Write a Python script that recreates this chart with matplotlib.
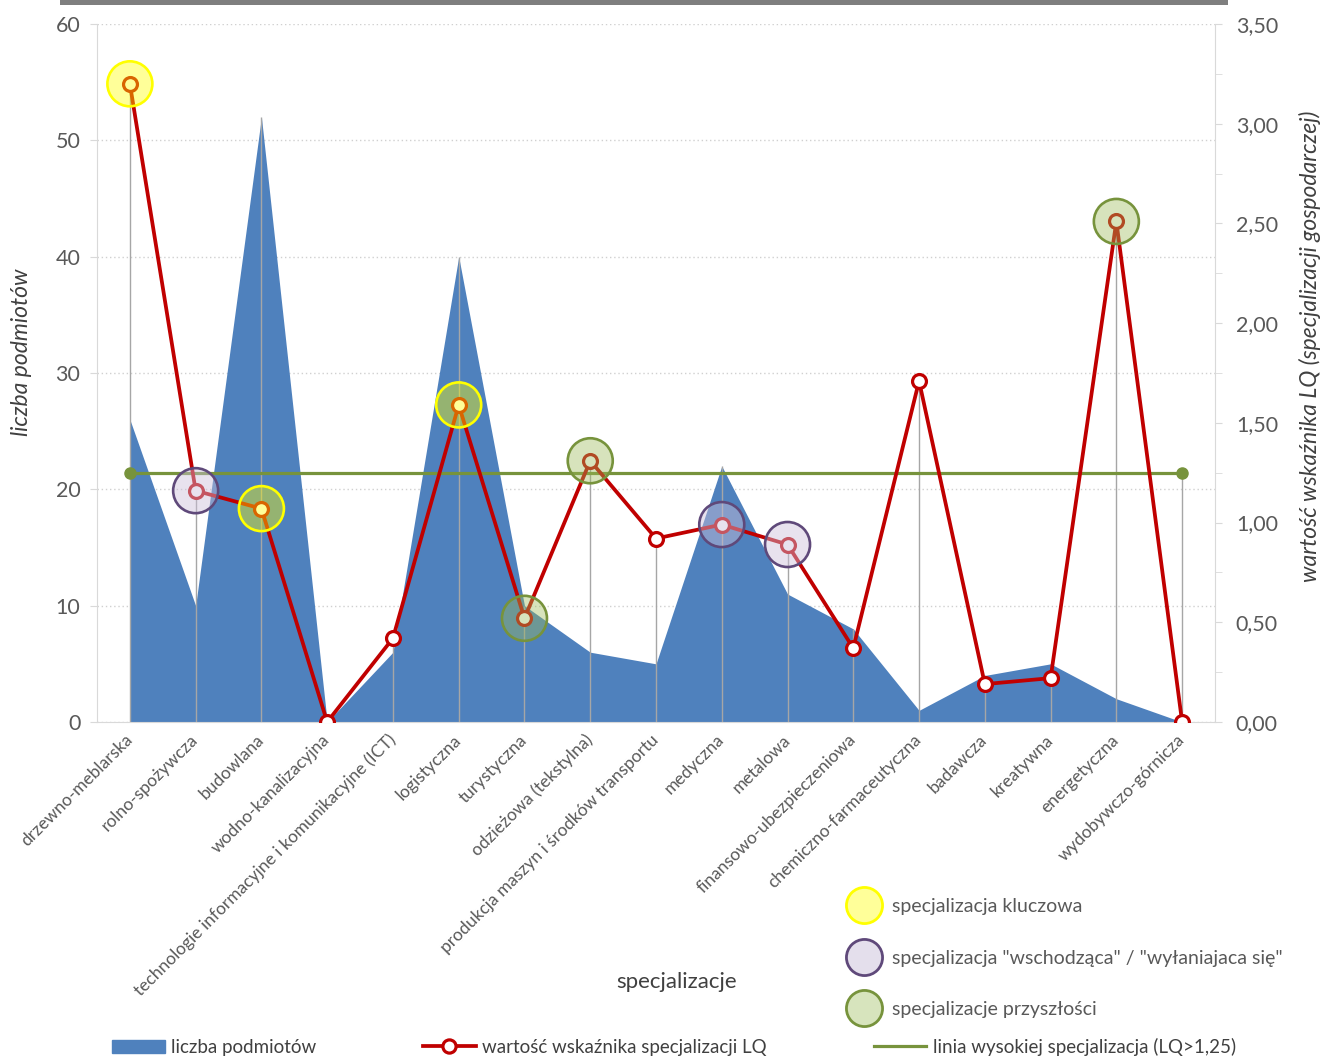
import matplotlib
matplotlib.use('Agg')
import matplotlib.pyplot as plt
from matplotlib.lines import Line2D
from matplotlib.patches import Patch, Rectangle
from matplotlib.ticker import MultipleLocator, FuncFormatter

plt.rcParams['font.family'] = ['Lato', 'DejaVu Sans']

# dane
kategorie = ['drzewno-meblarska', 'rolno-spożywcza', 'budowlana', 'wodno-kanalizacyjna',
             'technologie informacyjne i komunikacyjne (ICT)', 'logistyczna', 'turystyczna',
             'odzieżowa (tekstylna)', 'produkcja maszyn i środków transportu', 'medyczna',
             'metalowa', 'finansowo-ubezpieczeniowa', 'chemiczno-farmaceutyczna', 'badawcza',
             'kreatywna', 'energetyczna', 'wydobywczo-górnicza']
liczba_podmiotow = [26, 10, 52, 0, 6, 40, 10, 6, 5, 22, 11, 8, 1, 4, 5, 2, 0]
lq = [3.20, 1.16, 1.07, 0.00, 0.42, 1.59, 0.52, 1.31, 0.92, 0.99, 0.89, 0.37, 1.71, 0.19, 0.22, 2.51, 0.00]
lq_prog = 1.25

kluczowe = ['drzewno-meblarska', 'budowlana', 'logistyczna']
wschodzace = ['rolno-spożywcza', 'medyczna', 'metalowa']
przyszlosci = ['turystyczna', 'odzieżowa (tekstylna)', 'energetyczna']

x = list(range(len(kategorie)))

fig = plt.figure(figsize=(13.22, 10.59), dpi=100)
ax1 = fig.add_axes([97 / 1322, 337 / 1059, 1118 / 1322, 698 / 1059])
ax2 = ax1.twinx()

# obszar - liczba podmiotow
ax1.fill_between(x, liczba_podmiotow, color='#4F81BD', lw=0)
ax1.set_xlim(-0.5, len(x) - 0.5)
ax1.set_ylim(0, 60)
ax2.set_ylim(0, 3.5)

# linie spadku
skala = 3.5 / 60
tops = []
for i in x:
    t = max(liczba_podmiotow[i] * skala, lq[i])
    if i == 0 or i == x[-1]:
        t = max(t, lq_prog)
    tops.append(t)
ax2.vlines(x, 0, tops, color='#A6A6A6', lw=1, zorder=1)

# linia LQ > 1,25
ax2.plot([x[0], x[-1]], [lq_prog, lq_prog], color='#77933C', lw=2.3, marker='o', ms=8, zorder=2)

# LQ
ax2.plot(x, lq, color='#C00000', lw=2.7, marker='o', ms=10, mfc='white', mec='#C00000', mew=2.3, zorder=3)

# kolka
grupy = [(kluczowe, '#FFFF00', '#FFFF00', 0.4),
         (wschodzace, '#CCC0DA', '#5F497A', 0.45),
         (przyszlosci, '#9BBB59', '#77933C', 0.4)]
for nazwy, fc, ec, a in grupy:
    xs = [kategorie.index(n) for n in nazwy]
    ys = [lq[i] for i in xs]
    ax2.scatter(xs, ys, s=1050, facecolor=fc, alpha=a, edgecolor='none', zorder=4)
    ax2.scatter(xs, ys, s=1050, facecolor='none', edgecolor=ec, lw=1.9, zorder=5)

# osie
ax1.set_yticks(range(0, 61, 10))
ax1.yaxis.grid(True, linestyle=(0, (1, 2)), color='#D0D0D0', lw=1)
ax1.set_axisbelow(True)
ax1.tick_params(axis='y', colors='#D9D9D9', labelcolor='#595959', labelsize=15.5, length=5, pad=7)
ax1.set_xticks(x)
ax1.set_xticklabels(kategorie, rotation=45, ha='right', va='center', rotation_mode='anchor',
                    fontsize=12.5, color='#595959')
ax1.tick_params(axis='x', length=0, pad=11)

ax2.yaxis.set_major_locator(MultipleLocator(0.5))
ax2.yaxis.set_minor_locator(MultipleLocator(0.25))
ax2.yaxis.set_major_formatter(FuncFormatter(lambda v, p: f'{v:.2f}'.replace('.', ',')))
ax2.tick_params(axis='y', which='both', colors='#D9D9D9', labelcolor='#595959', labelsize=15.5, length=5, pad=10)

for s in ['top', 'right']:
    ax1.spines[s].set_visible(False)
for s in ['top', 'left', 'bottom']:
    ax2.spines[s].set_visible(False)
ax1.spines['left'].set_color('#D9D9D9')
ax1.spines['bottom'].set_color('#D9D9D9')
ax2.spines['right'].set_color('#D9D9D9')

# opisy osi
fig.text(22 / 1322, 1 - 352 / 1059, 'liczba podmiotów', rotation=90, ha='center', va='center',
         fontsize=16.5, style='italic', color='#404040')
fig.text(1310 / 1322, 1 - 346 / 1059, 'wartość wskaźnika LQ (specjalizacji gospodarczej)', rotation=90,
         ha='center', va='center', fontsize=16.5, style='italic', color='#404040')
fig.text(677 / 1322, 1 - 982 / 1059, 'specjalizacje', ha='center', va='center', fontsize=16, color='#404040')

# pasek tytulu (uciety)
fig.add_artist(Rectangle((60 / 1322, 1 - 5 / 1059), 1168 / 1322, 5 / 1059, transform=fig.transFigure,
                         color='#7F7F7F', lw=0))

# legenda dolna
h1 = [Patch(color='#4F81BD'),
      Line2D([], [], color='#C00000', lw=2.7, marker='o', ms=9.5, mfc='white', mec='#C00000', mew=2.3),
      Line2D([], [], color='#77933C', lw=2.3)]
l1 = ['liczba podmiotów', 'wartość wskaźnika specjalizacji LQ', 'linia wysokiej specjalizacja (LQ>1,25)']
fig.legend(h1, l1, loc='center left', bbox_to_anchor=(112 / 1322, 12 / 1059), ncol=3, frameon=False,
           fontsize=13.5, handlelength=2.8, handletextpad=0.35, columnspacing=5.7,
           borderpad=0, borderaxespad=0, labelcolor='#404040')

# legenda kolek
h2 = [Line2D([], [], ls='none', marker='o', ms=26, mfc='#FFFF99', mec='#FFFF00', mew=2),
      Line2D([], [], ls='none', marker='o', ms=26, mfc='#E4DFEC', mec='#5F497A', mew=2),
      Line2D([], [], ls='none', marker='o', ms=26, mfc='#D7E4BD', mec='#77933C', mew=2)]
l2 = ['specjalizacja kluczowa', 'specjalizacja "wschodząca" / "wyłaniajaca się"', 'specjalizacje przyszłości']
fig.legend(h2, l2, loc='upper left', bbox_to_anchor=(846 / 1322, 1 - 898 / 1059), frameon=False,
           fontsize=14, handlelength=1.8, handletextpad=0.55, labelspacing=1.78,
           borderpad=0, borderaxespad=0, labelcolor='#595959')

fig.savefig('out.png', dpi=100)
